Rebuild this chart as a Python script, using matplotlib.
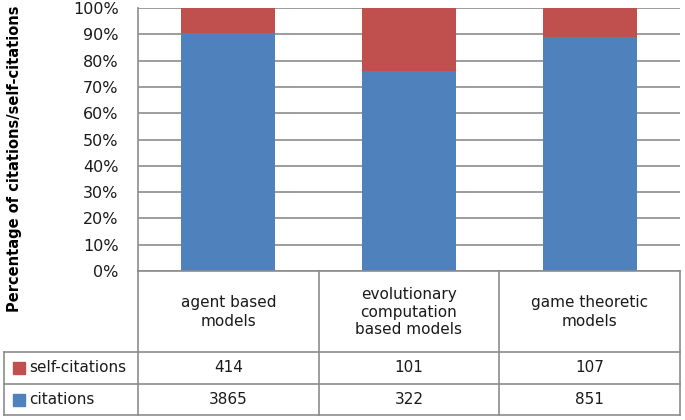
import matplotlib.pyplot as plt
from matplotlib.ticker import PercentFormatter

categories = ['agent based\nmodels', 'evolutionary\ncomputation\nbased models', 'game theoretic\nmodels']
series_names = ['self-citations', 'citations']
self_citations = [414, 101, 107]
citations = [3865, 322, 851]

blue = '#4f81bd'
red = '#c0504d'
grid_col = '#8c8c8c'
text_col = '#1a1a1a'

W, H = 685, 420
fig = plt.figure(figsize=(W / 100, H / 100), dpi=100)
plt.rcParams['font.family'] = ['DejaVu Sans']


def fx(px):
    return px / W


def fy(py):
    return 1 - py / H


# plot area
ax = fig.add_axes([fx(138), fy(271), (680 - 138) / W, (271 - 8) / H])
x = list(range(len(categories)))
tot = [a + b for a, b in zip(self_citations, citations)]
cit_pct = [c / t for c, t in zip(citations, tot)]
self_pct = [s / t for s, t in zip(self_citations, tot)]
ax.bar(x, cit_pct, width=0.52, color=blue, zorder=3)
ax.bar(x, self_pct, width=0.52, bottom=cit_pct, color=red, zorder=3)
ax.set_xlim(-0.5, 2.5)
ax.set_ylim(0, 1)
ax.set_yticks([i / 10 for i in range(11)])
ax.yaxis.set_major_formatter(PercentFormatter(1.0, decimals=0))
ax.yaxis.grid(True, color=grid_col, lw=1.2, zorder=0)
ax.set_xticks([])
ax.tick_params(axis='y', length=0, pad=14, labelsize=11.5, labelcolor=text_col)
for s in ['top', 'right', 'bottom']:
    ax.spines[s].set_visible(False)
ax.spines['left'].set_color(grid_col)
ax.spines['left'].set_linewidth(1.2)

fig.text(fx(15), fy(312), 'Percentage of citations/self-citations', rotation=90,
         ha='center', va='bottom', fontsize=10.5, fontweight='bold', color='black')

# data table under the plot
unit = (680 - 138) / 3
x0 = -0.5 - (138 - 4) / unit
tab = fig.add_axes([fx(4), fy(415), (680 - 4) / W, (415 - 271) / H])
tab.set_xlim(x0, 2.5)
tab.set_ylim(144, 0)
tab.axis('off')
lk = dict(color=grid_col, lw=1.2, clip_on=False)
tab.plot([-0.5, 2.5], [0, 0], **lk)
for yy in [81, 112.5, 144]:
    tab.plot([x0, 2.5], [yy, yy], **lk)
tab.plot([x0, x0], [81, 144], **lk)
for xx in [-0.5, 0.5, 1.5, 2.5]:
    tab.plot([xx, xx], [0, 144], **lk)

for i, cat in enumerate(categories):
    tab.text(i, 41, cat, ha='center', va='center', fontsize=11, color=text_col, linespacing=1.25)
    tab.text(i, 97, str(self_citations[i]), ha='center', va='center', fontsize=11, color=text_col)
    tab.text(i, 128.5, str(citations[i]), ha='center', va='center', fontsize=11, color=text_col)

for name, col, yy in [(series_names[0], red, 97), (series_names[1], blue, 128.5)]:
    tab.plot([x0 + 14.5 / unit], [yy], marker='s', ms=9, color=col, clip_on=False)
    tab.text(x0 + 25 / unit, yy, name, ha='left', va='center', fontsize=11, color=text_col)

fig.savefig('out.png', dpi=100)
